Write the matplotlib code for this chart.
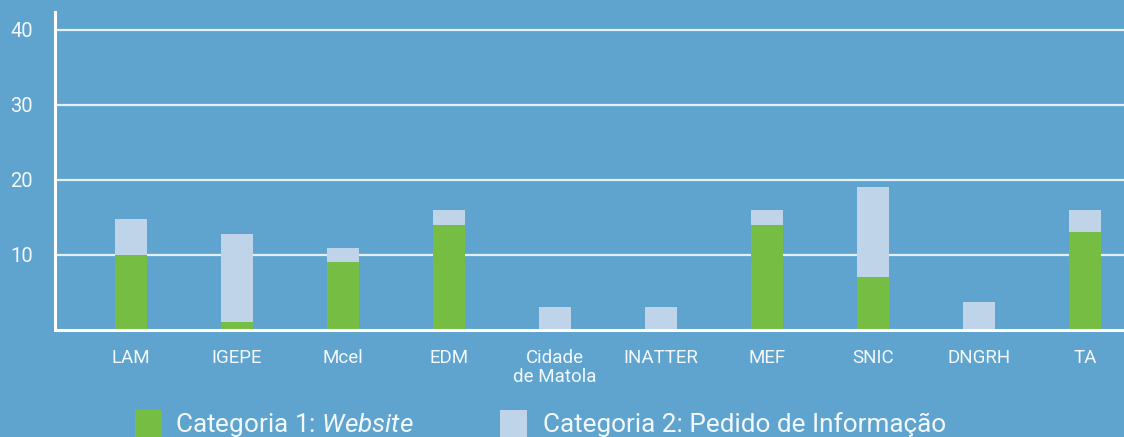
import matplotlib
matplotlib.use("Agg")
import matplotlib.pyplot as plt
from matplotlib.patches import Rectangle
import numpy as np

plt.rcParams['font.family'] = ['Roboto', 'DejaVu Sans']
plt.rcParams['mathtext.fontset'] = 'custom'
plt.rcParams['mathtext.rm'] = 'Roboto'
plt.rcParams['mathtext.it'] = 'Roboto:italic'

categories = ["LAM", "IGEPE", "Mcel", "EDM", "Cidade\nde Matola", "INATTER",
              "MEF", "SNIC", "DNGRH", "TA"]
website = [10, 1, 9, 14, 0, 0, 14, 7, 0, 13]
pedido = [4.7, 11.8, 1.9, 2, 3, 3, 2, 12, 3.7, 3]
yticks = [10, 20, 30, 40]
legend_labels = ["Categoria 1: $\\mathit{Website}$", "Categoria 2: Pedido de Informação"]

BG = "#5fa4cf"
GREEN = "#76be43"
LIGHT = "#bfd4e8"
TXT = "#f3f8fc"
GRID = "#e4eff7"

W, H = 1124, 437
fig = plt.figure(figsize=(W / 100, H / 100), dpi=100, facecolor=BG)

def fx(px):
    return px / W

def fy(py):
    return 1 - py / H

ax_left, ax_right, ax_top, ax_bottom = 55, 1124, 12, 329.5
ax = fig.add_axes([fx(ax_left), fy(ax_bottom), fx(ax_right - ax_left), (ax_bottom - ax_top) / H])
ax.set_facecolor(BG)

x = np.arange(len(categories))
bw = 0.30
ax.bar(x, website, width=bw, color=GREEN, zorder=3)
ax.bar(x, pedido, bottom=website, width=bw, color=LIGHT, zorder=3)

ax.set_xlim(-0.717, 9.368)
ax.set_ylim(0, 42.4)
ax.set_yticks(yticks)
ax.set_yticklabels([str(t) for t in yticks])
ax.set_xticks(x)
ax.set_xticklabels(categories, linespacing=1.1)
ax.yaxis.grid(True, color=GRID, linewidth=1.6, zorder=1)
ax.set_axisbelow(True)

for s in ["top", "right"]:
    ax.spines[s].set_visible(False)
for s in ["left", "bottom"]:
    ax.spines[s].set_color("white")
    ax.spines[s].set_linewidth(2.2)
    ax.spines[s].set_zorder(4)

ax.tick_params(axis="y", length=0, pad=16, labelsize=14.5, labelcolor=TXT)
ax.tick_params(axis="x", length=0, pad=14, labelsize=13.5, labelcolor=TXT)

# Legend
sq = 26.5
items = [(135, GREEN, 175), (500, LIGHT, 542.7)]
for (sx, col, tx), lab in zip(items, legend_labels):
    fig.add_artist(Rectangle((fx(sx), fy(437)), sq / W, (437 - 410) / H,
                             transform=fig.transFigure, color=col, lw=0))
    fig.text(fx(tx), fy(431.7), lab, color=TXT, fontsize=18.8, va="baseline", ha="left")

fig.savefig("out.png", dpi=100, facecolor=BG)
